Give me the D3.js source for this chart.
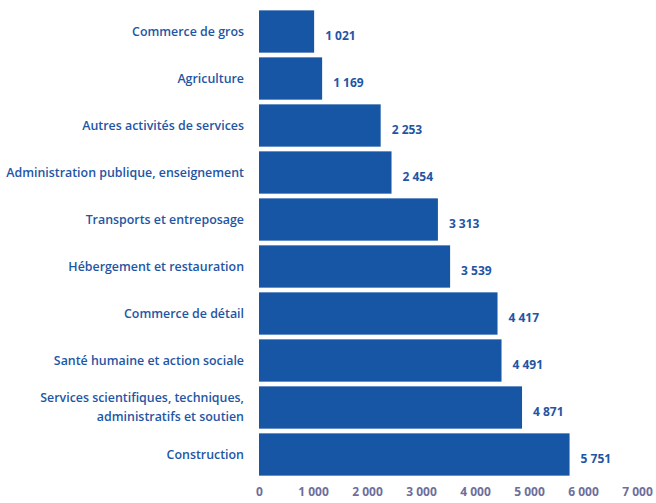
<!DOCTYPE html>
<html>
<head>
<meta charset="utf-8">
<script src="https://cdn.jsdelivr.net/npm/d3@7"></script>
<style>
  body { margin: 0; background: #fff; }
  text { font-family: "Open Sans", sans-serif; }
</style>
</head>
<body>
<div id="chart"></div>
<script>
// Data
var categories = [
    "Commerce de gros",
    "Agriculture",
    "Autres activités de services",
    "Administration publique, enseignement",
    "Transports et entreposage",
    "Hébergement et restauration",
    "Commerce de détail",
    "Santé humaine et action sociale",
    "Services scientifiques, techniques,|administratifs et soutien",
    "Construction"
];
var values = [1021, 1169, 2253, 2454, 3313, 3539, 4417, 4491, 4871, 5751];
var tickValues = [0, 1000, 2000, 3000, 4000, 5000, 6000, 7000];

var svgWidth = 656;
var svgHeight = 503;
var margin = { top: 8, right: 19, bottom: 25, left: 259 };
var width = svgWidth - margin.left - margin.right;
var height = svgHeight - margin.top - margin.bottom;

// French style thousands separator (space)
var fmt = n => d3.format(",")(n).replace(/,/g, "\u00a0");

var svg = d3.select("#chart")
    .append("svg")
    .attr("width", svgWidth)
    .attr("height", svgHeight);

var chartGroup = svg.append("g")
    .attr("transform", `translate(${margin.left}, ${margin.top})`);

var xScale = d3.scaleLinear()
    .domain([0, 7000])
    .range([0, width]);

var yScale = d3.scaleBand()
    .domain(categories)
    .range([0, height])
    .paddingInner(0.1)
    .paddingOuter(0.05);

// Bars
chartGroup.selectAll("rect")
    .data(values)
    .enter()
    .append("rect")
    .attr("x", 0)
    .attr("y", (d, i) => yScale(categories[i]))
    .attr("width", d => xScale(d))
    .attr("height", yScale.bandwidth())
    .attr("fill", "#1656a5");

// Value labels
chartGroup.selectAll(".val")
    .data(values)
    .enter()
    .append("text")
    .attr("class", "val")
    .attr("x", d => xScale(d) + 11)
    .attr("y", (d, i) => yScale(categories[i]) + yScale.bandwidth() / 2 + 8)
    .attr("font-size", "12px")
    .attr("font-weight", 700)
    .attr("fill", "#1f56a4")
    .text(d => fmt(d));

// Category labels
var catLabels = chartGroup.selectAll(".cat")
    .data(categories)
    .enter()
    .append("text")
    .attr("class", "cat")
    .attr("text-anchor", "end")
    .attr("font-size", "12.4px")
    .attr("font-weight", 600)
    .attr("fill", "#1f56a4")
    .attr("transform", d => `translate(-15, ${yScale(d) + yScale.bandwidth() / 2})`);

catLabels.each(function(d) {
    var lines = d.split("|");
    var t = d3.select(this);
    lines.forEach((line, j) => {
        t.append("tspan")
            .attr("x", 0)
            .attr("y", (j - (lines.length - 1) / 2) * 19)
            .attr("dy", "0.35em")
            .text(line);
    });
});

// X axis
var bottomAxis = d3.axisBottom(xScale)
    .tickValues(tickValues)
    .tickSize(0)
    .tickPadding(9)
    .tickFormat(fmt);

var xAxis = chartGroup.append("g")
    .attr("transform", `translate(0, ${height})`)
    .call(bottomAxis);

xAxis.select(".domain").remove();
xAxis.selectAll("text")
    .attr("font-family", "Open Sans, sans-serif")
    .attr("font-size", "12px")
    .attr("font-weight", 700)
    .attr("fill", "#6e6e9a");
</script>
</body>
</html>
